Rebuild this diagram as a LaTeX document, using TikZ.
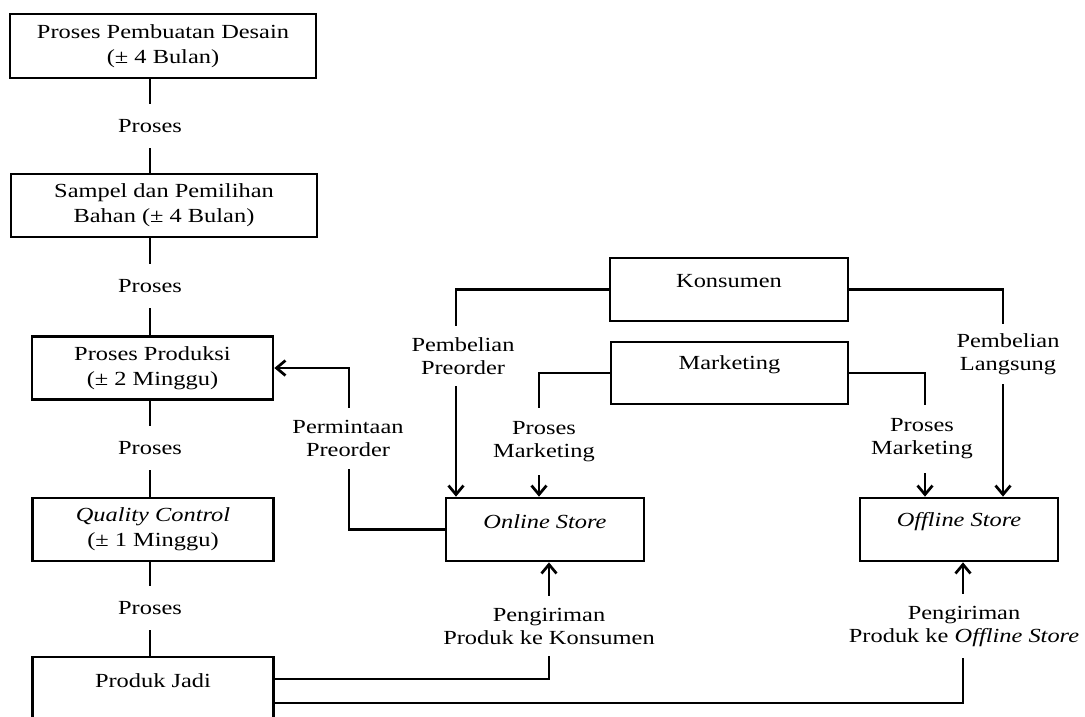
\documentclass[tikz,border=0pt]{standalone}
\usepackage{fontspec}
\setmainfont{Liberation Serif}[FakeStretch=1.22]
\usetikzlibrary{arrows.meta}
\newcommand\rtext[1]{\raisebox{8pt}[\height][\depth]{#1}}
\begin{document}
\begin{tikzpicture}[x=1pt,y=-1pt, line width=2.7pt,
  >={Straight Barb[length=9pt,width=15pt]},
  box/.style={draw, line width=2.7pt, rectangle, align=center, inner sep=0pt,
    font=\fontsize{20}{25}\selectfont},
  lab/.style={align=center, inner xsep=2pt, inner ysep=10.5pt,
    font=\fontsize{20}{23}\selectfont},
  proc/.style={lab, inner ysep=14.3pt}]
\useasboundingbox (0,0) rectangle (1085,716);
\clip (0,0) rectangle (1085,716);

% left column boxes
\node[box, minimum width=306pt, minimum height=64pt] (b1) at (163,46)
  {Proses Pembuatan Desain\\(± 4 Bulan)};
\node[box, minimum width=306pt, minimum height=63pt] (b2) at (164,205.5)
  {Sampel dan Pemilihan\\Bahan (± 4 Bulan)};
\node[box, minimum width=241pt, minimum height=63pt] (b3) at (152.5,368)
  {Proses Produksi\\(± 2 Minggu)};
\node[box, minimum width=241pt, minimum height=63pt] (b4) at (153,529.5)
  {\textit{Quality Control}\\(± 1 Minggu)};
\node[box, minimum width=241pt, minimum height=63pt] (b5) at (153,688.5)
  {\rtext{Produk Jadi}};

% right boxes
\node[box, minimum width=238pt, minimum height=63pt] (kon) at (729,289.5)
  {\rtext{Konsumen}};
\node[box, minimum width=237pt, minimum height=62pt] (mkt) at (729.5,373)
  {\rtext{Marketing}};
\node[box, minimum width=198pt, minimum height=63pt] (onl) at (545,529.5)
  {\rtext{\textit{Online Store}}};
\node[box, minimum width=198pt, minimum height=63pt] (off) at (959,529.5)
  {\rtext{\textit{Offline Store}}};

% process labels
\node[proc] (p1) at (150,126) {Proses};
\node[proc] (p2) at (150,286) {Proses};
\node[proc] (p3) at (150,448) {Proses};
\node[proc] (p4) at (150,608) {Proses};

% connector labels
\node[lab] (lpp) at (463,356) {Pembelian\\Preorder};
\node[lab, inner ysep=8.5pt] (lpl) at (1008,354) {Pembelian\\Langsung};
\node[lab, inner ysep=12.4pt] (lmk1) at (544,441.5) {Proses\\Marketing};
\node[lab, inner ysep=12.7pt] (lmk2) at (922,439) {Proses\\Marketing};
\node[lab, inner ysep=11pt] (lpo) at (348,438.5) {Permintaan\\Preorder};
\node[lab] (lk1) at (549,626) {Pengiriman\\Produk ke Konsumen};
\node[lab] (lk2) at (964,626) {Pengiriman\\Produk ke \textit{Offline Store}};

% connector columns
\coordinate (cpp) at (456,356);
\coordinate (cpl) at (1003,354);
\coordinate (cm1) at (539,441.5);
\coordinate (cm2) at (925,439);
\coordinate (cpo) at (349,438.5);
\coordinate (ck1) at (549,626);
\coordinate (ck2) at (963,626);

% left column links
\draw (b1.south -| p1) -- (p1.north);
\draw (p1.south) -- (b2.north -| p1);
\draw (b2.south -| p2) -- (p2.north);
\draw (p2.south) -- (b3.north -| p2);
\draw (b3.south -| p3) -- (p3.north);
\draw (p3.south) -- (b4.north -| p3);
\draw (b4.south -| p4) -- (p4.north);
\draw (p4.south) -- (b5.north -| p4);

% Konsumen
\draw (kon.west) -| (cpp |- lpp.north);
\draw[->] (cpp |- lpp.south) -- (cpp |- onl.north);
\draw (kon.east) -| (cpl |- lpl.north);
\draw[->] (cpl |- lpl.south) -- (cpl |- off.north);

% Marketing
\draw (mkt.west) -| (cm1 |- lmk1.north);
\draw[->] (cm1 |- lmk1.south) -- (cm1 |- onl.north);
\draw (mkt.east) -| (cm2 |- lmk2.north);
\draw[->] (cm2 |- lmk2.south) -- (cm2 |- off.north);

% Permintaan Preorder
\draw (onl.west) -| (cpo |- lpo.south);
\draw[->] (cpo |- lpo.north) |- (b3.east);

% Pengiriman
\draw ([yshift=9.5pt]b5.east) -| (ck1 |- lk1.south);
\draw[->] (ck1 |- lk1.north) -- (ck1 |- onl.south);
\draw ([yshift=-14.5pt]b5.east) -| (ck2 |- lk2.south);
\draw[->] (ck2 |- lk2.north) -- (ck2 |- off.south);
\end{tikzpicture}
\end{document}
